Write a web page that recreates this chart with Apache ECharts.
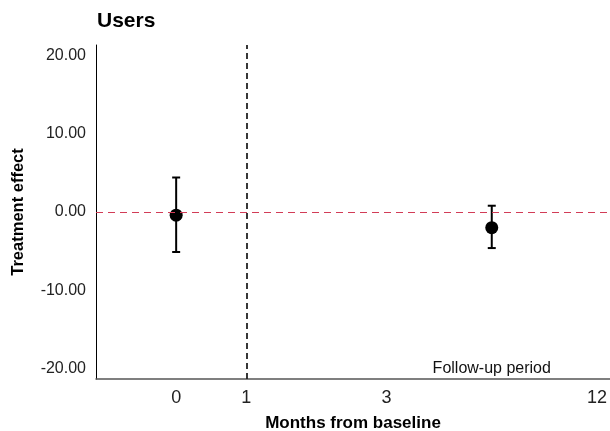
<!DOCTYPE html>
<html><head><meta charset="utf-8">
<script src="https://cdn.jsdelivr.net/npm/echarts@6/dist/echarts.min.js"></script>
<style>html,body{margin:0;padding:0;background:#fff}#c{width:610px;height:431px}</style>
</head><body><div id="c"></div>
<script>
const xTickValues = [0, 1, 3, 6];
const xTickLabels = ['0', '1', '3', '12'];
const yTickValues = [-20, -10, 0, 10, 20];
const pointX = [0, 4.5];
const estimate = [-0.4, -2.0];
const ciLow = [-5.1, -4.6];
const ciHigh = [4.4, 0.8];
const baselineX = 1;
const refY = 0;
const noteText = 'Follow-up period';
const noteX = 4.5;
const noteY = -20;

const font = '"Liberation Sans", Arial, sans-serif';
const chart = echarts.init(document.getElementById('c'), null, {renderer: 'canvas'});
chart.setOption({
  animation: false,
  textStyle: {fontFamily: font},
  title: {text: 'Users', left: 92, top: 6, textStyle: {fontFamily: font, fontSize: 21, fontWeight: 'bold', color: '#000'}},
  grid: {left: 96, right: 0, top: 45, bottom: 52, outerBoundsMode: 'none', containLabel: false},
  xAxis: {
    type: 'value', min: -1.143, max: 6.186,
    name: 'Months from baseline', nameLocation: 'middle', nameGap: 36,
    nameTextStyle: {fontFamily: font, fontSize: 17, fontWeight: 'bold', color: '#000'},
    axisLine: {onZero: false, lineStyle: {color: '#555', width: 1.5}},
    axisTick: {show: false},
    splitLine: {show: false},
    axisLabel: {customValues: xTickValues, margin: 10, fontSize: 18, color: '#222', fontFamily: font,
      formatter: v => xTickLabels[xTickValues.indexOf(v)] ?? ''}
  },
  yAxis: {
    type: 'value', min: -21.3, max: 21.3,
    name: 'Treatment effect', nameLocation: 'middle', nameGap: 69, nameRotate: 90,
    nameTextStyle: {fontFamily: font, fontSize: 16.5, fontWeight: 'bold', color: '#000'},
    axisLine: {show: true, onZero: false, lineStyle: {color: '#000', width: 1}},
    axisTick: {show: false},
    splitLine: {show: false},
    axisLabel: {customValues: yTickValues, margin: 10, fontSize: 16, color: '#222', fontFamily: font,
      formatter: v => v.toFixed(2)}
  },
  series: [
    {
      type: 'line', data: [], silent: true,
      markLine: {symbol: 'none', silent: true, label: {show: false},
        lineStyle: {color: '#d23c57', type: [7, 5], width: 1.2},
        data: [{yAxis: refY}]}
    },
    {
      type: 'line', data: [], silent: true,
      markLine: {symbol: 'none', silent: true, label: {show: false},
        lineStyle: {color: '#222', type: [6, 4], width: 1.8},
        data: [{xAxis: baselineX}]}
    },
    {
      type: 'custom', silent: true, z: 3,
      data: pointX.map((x, i) => [x, ciLow[i], ciHigh[i]]),
      renderItem: (params, api) => {
        const lo = api.coord([api.value(0), api.value(1)]);
        const hi = api.coord([api.value(0), api.value(2)]);
        const w = 4;
        const st = {stroke: '#000', lineWidth: 2};
        return {type: 'group', children: [
          {type: 'line', shape: {x1: lo[0], y1: lo[1], x2: hi[0], y2: hi[1]}, style: st},
          {type: 'line', shape: {x1: lo[0]-w, y1: lo[1], x2: lo[0]+w, y2: lo[1]}, style: st},
          {type: 'line', shape: {x1: hi[0]-w, y1: hi[1], x2: hi[0]+w, y2: hi[1]}, style: st}
        ]};
      }
    },
    {
      type: 'scatter', z: 4, symbolSize: 13, itemStyle: {color: '#000', opacity: 1},
      data: pointX.map((x, i) => [x, estimate[i]])
    },
    {
      type: 'custom', silent: true,
      data: [[noteX, noteY]],
      renderItem: (params, api) => {
        const p = api.coord([api.value(0), api.value(1)]);
        return {type: 'text', x: p[0], y: p[1], style: {text: noteText, fontFamily: font, fontSize: 16, fill: '#111', align: 'center', verticalAlign: 'middle'}};
      }
    }
  ]
});
</script></body></html>
